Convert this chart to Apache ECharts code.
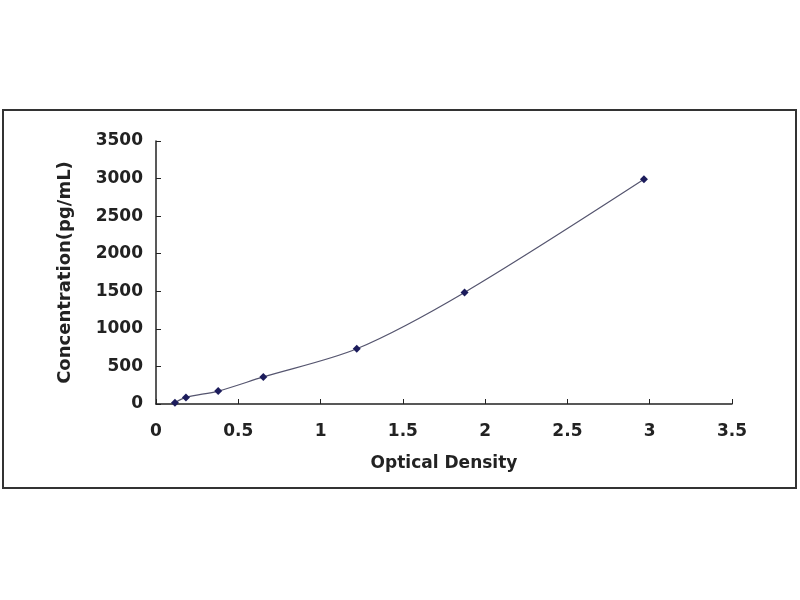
<!DOCTYPE html>
<html>
<head>
<meta charset="utf-8">
<script src="https://cdn.jsdelivr.net/npm/echarts@6/dist/echarts.min.js"></script>
<style>
html,body{margin:0;padding:0;background:#fff;}
#chart{width:800px;height:600px;}
</style>
</head>
<body>
<div id="chart"></div>
<script>
// Optical density (x) and concentration (pg/mL)
const odValues = [0.115, 0.182, 0.378, 0.652, 1.22, 1.875, 2.965];
const concValues = [18, 88, 172, 360, 735, 1485, 2990];
const xTicks = [0, 0.5, 1, 1.5, 2, 2.5, 3, 3.5];
const yTicks = [0, 500, 1000, 1500, 2000, 2500, 3000, 3500];

const points = odValues.map((x, i) => [x, concValues[i]]);
const FONT = 'DejaVu Sans';

const chart = echarts.init(document.getElementById('chart'));
chart.setOption({
  animation: false,
  backgroundColor: '#ffffff',
  graphic: [{
    type: 'rect',
    shape: {x: 3, y: 110, width: 793, height: 378},
    style: {fill: 'none', stroke: '#333333', lineWidth: 2},
    silent: true
  }],
  grid: {left: 156, right: 68, top: 141, bottom: 196},
  xAxis: {
    type: 'value',
    min: xTicks[0],
    max: xTicks[xTicks.length - 1],
    interval: 0.5,
    name: 'Optical Density',
    nameLocation: 'middle',
    nameGap: 51,
    nameTextStyle: {fontFamily: FONT, fontWeight: 'bold', fontSize: 17, color: '#222'},
    axisLine: {lineStyle: {color: '#222', width: 1.5}},
    axisTick: {inside: true, length: 5, lineStyle: {color: '#222'}},
    axisLabel: {fontFamily: FONT, fontWeight: 'bold', fontSize: 17, color: '#222', margin: 19,
      formatter: v => String(v)},
    splitLine: {show: false}
  },
  yAxis: {
    type: 'value',
    min: yTicks[0],
    max: yTicks[yTicks.length - 1],
    interval: 500,
    name: 'Concentration(pg/mL)',
    nameLocation: 'middle',
    nameGap: 82,
    nameTextStyle: {fontFamily: FONT, fontWeight: 'bold', fontSize: 18, color: '#222'},
    axisLine: {show: true, lineStyle: {color: '#222', width: 1.5}},
    axisTick: {show: true, inside: true, length: 5, lineStyle: {color: '#222'}},
    axisLabel: {fontFamily: FONT, fontWeight: 'bold', fontSize: 17, color: '#222', margin: 13,
      formatter: v => String(v)},
    splitLine: {show: false}
  },
  series: [{
    type: 'line',
    data: points,
    smooth: 0.3,
    symbol: 'diamond',
    symbolSize: 8,
    itemStyle: {color: '#1c1c5c'},
    lineStyle: {color: '#55556f', width: 1.2}
  }]
});
</script>
</body>
</html>
